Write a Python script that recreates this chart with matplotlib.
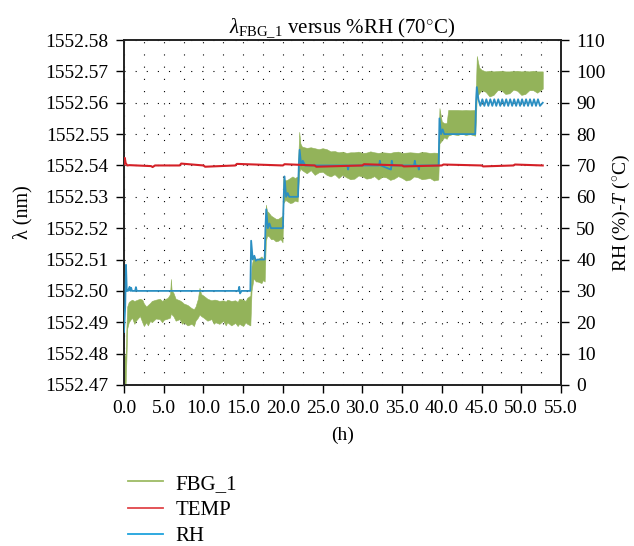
import numpy as np
import matplotlib
matplotlib.use("Agg")
from matplotlib import pyplot as plt
from matplotlib.lines import Line2D
from matplotlib.ticker import MultipleLocator, FormatStrFormatter

plt.rcParams['font.family'] = ['Liberation Serif', 'DejaVu Serif']
plt.rcParams['mathtext.fontset'] = 'custom'
plt.rcParams['mathtext.rm'] = 'Liberation Serif'
plt.rcParams['mathtext.it'] = 'Liberation Serif:italic'

# FBG_1 wavelength band (nm): time (h), lower and upper envelope
fbg_t = [0.0, 0.2, 0.3, 0.4, 0.6, 1.0, 1.3, 1.5, 2.0, 2.3, 2.5, 2.8, 3.0,
         3.3, 3.5, 4.0, 4.5, 4.8, 5.0, 5.5, 5.8, 5.9, 6.0, 6.2, 6.5, 7.0,
         7.3, 7.5, 8.0, 8.5, 8.8, 9.0, 9.3, 9.5, 9.7, 10.0, 10.5, 11.0, 11.3,
         11.5, 12.0, 12.5, 12.8, 13.0, 13.5, 14.0, 14.3, 14.5, 15.0, 15.3,
         15.5, 15.9,
         16.05, 16.3, 16.6, 16.8, 17.3, 17.5, 17.7,
         17.85, 18.0, 18.2, 18.5, 18.8, 19.1, 19.4, 19.7, 19.95,
         20.05, 20.3, 20.6, 20.9, 21.2, 21.5, 21.85,
         22.05, 22.2, 22.4, 23.0, 23.5, 24.0, 24.5, 25.0, 25.5, 26.0, 26.5,
         27.0, 27.5, 28.0, 28.5, 29.0, 29.5, 30.0, 30.5, 31.0, 31.5, 32.0,
         32.5, 33.0, 33.5, 34.0, 34.5, 35.0, 35.5, 36.0, 36.5, 37.0, 37.5,
         38.0, 38.5, 39.0, 39.55,
         39.7, 40.0, 40.3, 40.6, 40.8, 41.3, 42.0, 42.5, 43.0, 43.5, 44.2,
         44.4, 44.7, 45.0, 45.5, 46.0, 46.5, 47.0, 47.5, 48.0, 48.5, 49.0,
         49.5, 50.0, 50.5, 51.0, 51.5, 52.0, 52.7]
fbg_lo = [1552.4700, 1552.4700, 1552.4780, 1552.4880, 1552.4900, 1552.4915,
          1552.4895, 1552.4905, 1552.4920, 1552.4900, 1552.4888, 1552.4900,
          1552.4890, 1552.4905, 1552.4900, 1552.4912, 1552.4910, 1552.4900,
          1552.4908, 1552.4912, 1552.4915, 1552.4930, 1552.4925, 1552.4920,
          1552.4905, 1552.4910, 1552.4895, 1552.4900, 1552.4890, 1552.4895,
          1552.4888, 1552.4905, 1552.4915, 1552.4925, 1552.4920, 1552.4915,
          1552.4905, 1552.4910, 1552.4895, 1552.4900, 1552.4895, 1552.4905,
          1552.4890, 1552.4900, 1552.4890, 1552.4898, 1552.4888, 1552.4895,
          1552.4888, 1552.4900, 1552.4895, 1552.4890,
          1552.5000, 1552.5040, 1552.5030, 1552.5030, 1552.5025, 1552.5035,
          1552.5030,
          1552.5160, 1552.5175, 1552.5175, 1552.5165, 1552.5165, 1552.5158,
          1552.5160, 1552.5165, 1552.5155,
          1552.5280, 1552.5290, 1552.5285, 1552.5280, 1552.5282, 1552.5288,
          1552.5285,
          1552.5380, 1552.5390, 1552.5385, 1552.5375, 1552.5385, 1552.5370,
          1552.5378, 1552.5380, 1552.5370, 1552.5365, 1552.5372, 1552.5360,
          1552.5370, 1552.5362, 1552.5356, 1552.5358, 1552.5368, 1552.5365,
          1552.5358, 1552.5360, 1552.5366, 1552.5355, 1552.5364, 1552.5362,
          1552.5354, 1552.5358, 1552.5366, 1552.5360, 1552.5352, 1552.5355,
          1552.5365, 1552.5362, 1552.5356, 1552.5358, 1552.5360, 1552.5352,
          1552.5355,
          1552.5470, 1552.5480, 1552.5490, 1552.5485, 1552.5495, 1552.5500,
          1552.5497, 1552.5502, 1552.5497, 1552.5500, 1552.5495,
          1552.5620, 1552.5630, 1552.5640, 1552.5635, 1552.5620, 1552.5625,
          1552.5640, 1552.5640, 1552.5628, 1552.5630, 1552.5642, 1552.5638,
          1552.5625, 1552.5628, 1552.5640, 1552.5640, 1552.5632, 1552.5645]
fbg_hi = [1552.4800, 1552.4790, 1552.4880, 1552.4950, 1552.4965, 1552.4972,
          1552.4968, 1552.4970, 1552.4975, 1552.4972, 1552.4960, 1552.4950,
          1552.4955, 1552.4962, 1552.4968, 1552.4972, 1552.4975, 1552.4968,
          1552.4972, 1552.4978, 1552.4990, 1552.5038, 1552.5000, 1552.4995,
          1552.4975, 1552.4970, 1552.4965, 1552.4960, 1552.4955, 1552.4945,
          1552.4942, 1552.4950, 1552.4975, 1552.5010, 1552.4990, 1552.4985,
          1552.4975, 1552.4970, 1552.4972, 1552.4972, 1552.4968, 1552.4970,
          1552.4966, 1552.4972, 1552.4968, 1552.4970, 1552.4965, 1552.4975,
          1552.4972, 1552.4968, 1552.4978, 1552.4985,
          1552.5080, 1552.5110, 1552.5095, 1552.5100, 1552.5110, 1552.5102,
          1552.5105,
          1552.5275, 1552.5255, 1552.5250, 1552.5240, 1552.5235, 1552.5230,
          1552.5230, 1552.5235, 1552.5240,
          1552.5360, 1552.5352, 1552.5355, 1552.5360, 1552.5365, 1552.5360,
          1552.5365,
          1552.5507, 1552.5470, 1552.5460, 1552.5456, 1552.5458, 1552.5455,
          1552.5452, 1552.5455, 1552.5452, 1552.5445, 1552.5446, 1552.5442,
          1552.5444, 1552.5440, 1552.5442, 1552.5442, 1552.5444, 1552.5440,
          1552.5441, 1552.5445, 1552.5442, 1552.5440, 1552.5442, 1552.5441,
          1552.5440, 1552.5443, 1552.5444, 1552.5440, 1552.5441, 1552.5442,
          1552.5441, 1552.5440, 1552.5443, 1552.5442, 1552.5440, 1552.5441,
          1552.5440,
          1552.5583, 1552.5540, 1552.5535, 1552.5535, 1552.5577, 1552.5577,
          1552.5577, 1552.5576, 1552.5577, 1552.5576, 1552.5577,
          1552.5749, 1552.5712, 1552.5705, 1552.5700, 1552.5702, 1552.5700,
          1552.5701, 1552.5702, 1552.5700, 1552.5700, 1552.5701, 1552.5702,
          1552.5700, 1552.5701, 1552.5700, 1552.5702, 1552.5700, 1552.5700]

# relative humidity (%)
rh_t = [0.0, 0.15, 0.25, 0.35, 0.5, 0.7, 0.8, 0.9, 1.0, 1.4, 1.5, 1.6,
        14.4, 14.5, 14.6, 14.8, 15.8, 15.9, 16.0, 16.2, 16.4, 16.6, 16.8,
        17.7, 17.8, 17.9, 18.1, 18.3, 18.5, 20.0, 20.1, 20.2, 20.4, 20.6,
        20.8, 21.9, 22.0, 22.1, 22.3, 22.5, 22.8, 28.1, 28.2, 28.3,
        32.1, 32.2, 32.3, 33.6, 33.7, 33.8, 36.5, 36.6, 36.7, 37.0, 37.1,
        37.2, 39.5, 39.6, 39.7, 39.9, 40.1, 40.3, 40.6, 44.2, 44.3, 44.4,
        44.6, 44.85, 45.1, 45.35, 45.6, 45.85, 46.1, 46.35, 46.6, 46.85,
        47.1, 47.35, 47.6, 47.85, 48.1, 48.35, 48.6, 48.85, 49.1, 49.35,
        49.6, 49.85, 50.1, 50.35, 50.6, 50.85, 51.1, 51.35, 51.6, 51.85,
        52.1, 52.35, 52.7]
rh = [16.9, 25.0, 38.3, 30.0, 30.0, 31.3, 30.0, 31.0, 30.0, 30.0, 31.2, 30.0,
      30.0, 31.3, 29.2, 30.0, 30.0, 30.0, 46.0, 40.0, 41.2, 39.6, 40.0,
      40.0, 50.0, 56.0, 50.0, 51.5, 50.0, 50.0, 60.0, 66.5, 60.0, 61.2,
      60.0, 60.0, 70.0, 75.0, 70.0, 71.5, 70.0, 70.0, 68.7, 70.0,
      70.0, 71.5, 70.0, 68.7, 71.5, 70.0, 70.0, 71.5, 70.0, 70.0, 68.7,
      70.0, 70.0, 70.0, 85.0, 80.0, 81.5, 80.0, 80.0, 80.0, 90.0, 95.0,
      91.1, 89.0, 91.1, 89.0, 91.1, 89.0, 91.1, 89.0, 91.1, 89.0,
      91.1, 89.0, 91.1, 89.0, 91.1, 89.0, 91.1, 89.0, 91.1, 89.0,
      91.1, 89.0, 91.1, 89.0, 91.1, 89.0, 91.1, 89.0, 91.1, 89.0,
      91.1, 89.0, 90.0]

# temperature (deg C)
temp_t = [0.0, 0.1, 0.2, 0.4, 0.7, 3.4, 3.6, 3.9, 7.0, 7.2, 10.0, 10.2,
          14.0, 14.2, 20.0, 20.2, 24.0, 24.2, 30.0, 30.2, 35.0, 35.2,
          40.0, 40.2, 45.0, 45.2, 49.0, 49.2, 52.7]
temp = [70.3, 72.4, 70.8, 70.0, 70.1, 69.8, 69.5, 70.0, 70.0, 70.6, 70.0,
        69.6, 70.0, 70.5, 70.0, 70.4, 70.0, 69.6, 70.0, 70.4, 70.0, 69.7,
        70.0, 70.3, 70.0, 69.7, 70.0, 70.3, 70.0]

lam_ticks = np.round(np.linspace(1552.47, 1552.58, 12), 2)
rh_ticks = np.arange(0, 111, 10)
x_ticks = np.arange(0, 56, 5)

c_fbg = '#93b35a'
c_temp = '#d42027'
c_rh = '#2b8fc2'

fig = plt.figure(figsize=(6.34, 5.46), dpi=100)
ax = fig.add_axes([0.1956, 0.2949, 0.6893, 0.6318])
ax2 = ax.twinx()

ax.fill_between(fbg_t, fbg_lo, fbg_hi, color=c_fbg, lw=0.4, zorder=2)
ax2.plot(rh_t, rh, color=c_rh, lw=1.3, zorder=3)
ax2.plot(temp_t, temp, color=c_temp, lw=1.5, zorder=4)

ax.set_xlim(0, 55)
ax.set_ylim(1552.47, 1552.58)
ax2.set_ylim(0, 110)
ax.set_xticks(x_ticks)
ax.xaxis.set_minor_locator(MultipleLocator(2.5))
ax.xaxis.set_major_formatter(FormatStrFormatter('%.1f'))
ax.set_yticks(lam_ticks)
ax.yaxis.set_major_formatter(FormatStrFormatter('%.2f'))
ax2.set_yticks(rh_ticks)

ax.grid(True, which='both', axis='x', color='black', lw=0.8,
        linestyle=(0, (1, 10)))
ax.grid(True, which='major', axis='y', color='black', lw=0.8,
        linestyle=(0, (1, 9)))
ax.set_axisbelow(True)

for a in (ax, ax2):
    a.tick_params(labelsize=14, direction='out', length=6, width=1.0, pad=5)
    a.tick_params(which='minor', length=0)
    for s in a.spines.values():
        s.set_linewidth(1.2)
        s.set_color('#222222')

ax.set_title(r'$\lambda_{\mathrm{FBG\_1}}$ versus %RH (70$^{\circ}$C)',
             fontsize=15, pad=5)
ax.set_xlabel('(h)', fontsize=14, labelpad=7)
ax.set_ylabel('λ (nm)', fontsize=14.5, labelpad=9)
ax2.set_ylabel(r'RH (%)-$T$ ($^{\circ}$C)', fontsize=14, labelpad=4)

handles = [Line2D([], [], color='#9dbb64', lw=1.3),
           Line2D([], [], color='#e0454a', lw=1.3),
           Line2D([], [], color='#1fa3dd', lw=1.3)]
fig.legend(handles, ['FBG_1', 'TEMP', 'RH'], loc='upper left',
           bbox_to_anchor=(0.172, 0.166), frameon=False, fontsize=15,
           handlelength=1.7, labelspacing=0.32, handletextpad=0.6)

fig.savefig('out.png', dpi=100)
